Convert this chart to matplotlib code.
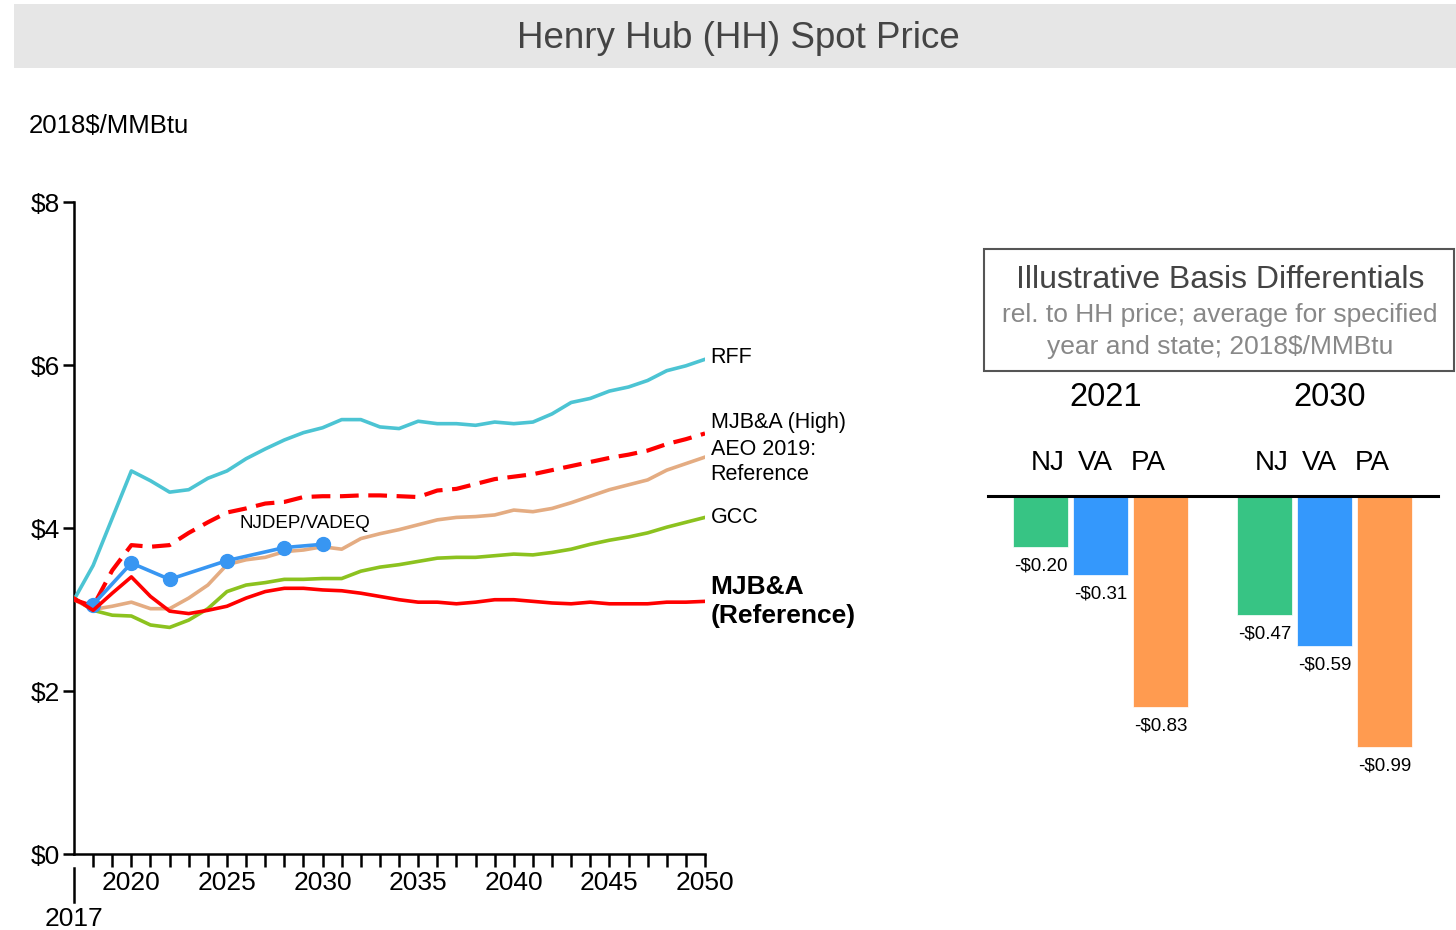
import matplotlib
matplotlib.use('Agg')
import matplotlib.pyplot as plt
from matplotlib.patches import Rectangle

plt.rcParams['font.family'] = ['Liberation Sans', 'DejaVu Sans']

years = list(range(2017, 2051))
rff = [3.12, 3.54, 4.12, 4.70, 4.58, 4.44, 4.47, 4.61, 4.70, 4.85,
       4.97, 5.08, 5.17, 5.23, 5.33, 5.33, 5.24, 5.22, 5.31, 5.28,
       5.28, 5.26, 5.30, 5.28, 5.30, 5.40, 5.54, 5.59, 5.68, 5.73,
       5.81, 5.93, 5.99, 6.07]
mjba_high = [3.12, 3.04, 3.48, 3.79, 3.77, 3.79, 3.94, 4.07, 4.19, 4.24,
             4.30, 4.32, 4.38, 4.39, 4.39, 4.40, 4.40, 4.39, 4.38, 4.46,
             4.48, 4.54, 4.60, 4.63, 4.66, 4.71, 4.76, 4.81, 4.86, 4.90,
             4.95, 5.03, 5.09, 5.16]
aeo_ref = [3.12, 3.00, 3.04, 3.09, 3.01, 3.01, 3.14, 3.30, 3.55, 3.61,
           3.64, 3.71, 3.73, 3.77, 3.74, 3.87, 3.93, 3.98, 4.04, 4.10,
           4.13, 4.14, 4.16, 4.22, 4.20, 4.24, 4.31, 4.39, 4.47, 4.53,
           4.59, 4.71, 4.79, 4.87]
gcc = [3.14, 2.99, 2.93, 2.92, 2.81, 2.78, 2.87, 3.01, 3.22, 3.30,
       3.33, 3.37, 3.37, 3.38, 3.38, 3.47, 3.52, 3.55, 3.59, 3.63,
       3.64, 3.64, 3.66, 3.68, 3.67, 3.70, 3.74, 3.80, 3.85, 3.89,
       3.94, 4.01, 4.07, 4.13]
mjba_ref = [3.14, 2.99, 3.20, 3.40, 3.16, 2.98, 2.95, 2.99, 3.04, 3.14,
            3.22, 3.26, 3.26, 3.24, 3.23, 3.20, 3.16, 3.12, 3.09, 3.09,
            3.07, 3.09, 3.12, 3.12, 3.10, 3.08, 3.07, 3.09, 3.07, 3.07,
            3.07, 3.09, 3.09, 3.10]
nj_years = [2018, 2020, 2022, 2025, 2028, 2030]
nj_vals = [3.06, 3.57, 3.37, 3.60, 3.76, 3.80]

basis_years = ['2021', '2030']
states = ['NJ', 'VA', 'PA']
basis = {'2021': [-0.20, -0.31, -0.83], '2030': [-0.47, -0.59, -0.99]}
state_colors = ['#37C484', '#3498FC', '#FF9B50']

W, H = 1456, 930
fig = plt.figure(figsize=(W / 100, H / 100), dpi=100)

def fx(x): return x / W
def fy(y): return 1 - y / H

# title banner
fig.patches.append(Rectangle((fx(14), fy(68)), fx(1456 - 14), 64 / H, transform=fig.transFigure,
                             facecolor='#E6E6E6', edgecolor='none', zorder=0))
fig.text(fx(738), fy(38), 'Henry Hub (HH) Spot Price', ha='center', va='center', fontsize=26.5, color='#444444')
fig.text(fx(29), fy(126), '2018$/MMBtu', ha='left', va='center', fontsize=18.5, color='black')

# left chart
ax = fig.add_axes([fx(74), fy(854), fx(705 - 74), (854 - 202) / H])
ax.plot(years, rff, color='#4CC4D3', lw=2.6, zorder=3)
ax.plot(years, gcc, color='#8CC21F', lw=2.6, zorder=3)
ax.plot(years, aeo_ref, color='#E4AC82', lw=2.6, zorder=3)
ax.plot(years, mjba_high, color='#FF0000', lw=3, ls=(0, (4.5, 2.3)), zorder=4)
ax.plot(nj_years, nj_vals, color='#3896F2', lw=2.6, marker='o', ms=10, zorder=5)
ax.plot(years, mjba_ref, color='#FF0000', lw=2.6, zorder=6)

ax.set_xlim(2017, 2050)
ax.set_ylim(0, 8)
for s in ('top', 'right'):
    ax.spines[s].set_visible(False)
for s in ('left', 'bottom'):
    ax.spines[s].set_linewidth(1.8)
ax.set_yticks([0, 2, 4, 6, 8])
ax.set_yticklabels(['$0', '$2', '$4', '$6', '$8'])
ax.tick_params(axis='y', length=8, width=1.8, labelsize=19, pad=2)
ax.set_xticks(list(range(2018, 2051)))
ax.set_xticklabels([str(y) if y % 5 == 0 else '' for y in range(2018, 2051)])
ax.tick_params(axis='x', length=9, width=1.8, labelsize=19, pad=3)
ax.plot([2017, 2017], [-0.0215, -0.0736], transform=ax.get_xaxis_transform(), color='black', lw=1.8, clip_on=False)
ax.text(2017, -0.099, '2017', transform=ax.get_xaxis_transform(), ha='center', va='center', fontsize=19)

lab = dict(fontsize=15.5, ha='left', va='center', color='black')
ax.text(2050.3, 6.09, 'RFF', **lab)
ax.text(2050.3, 5.29, 'MJB&A (High)', **lab)
ax.text(2050.3, 4.81, 'AEO 2019:\nReference', linespacing=1.2, **lab)
ax.text(2050.3, 4.13, 'GCC', **lab)
ax.text(2050.3, 3.10, 'MJB&A\n(Reference)', fontsize=19, fontweight='bold', ha='left', va='center', linespacing=1.25)
ax.text(2029.1, 4.05, 'NJDEP/VADEQ', fontsize=13.5, ha='center', va='center')

# right panel: basis differentials
fig.patches.append(Rectangle((fx(984), fy(371)), fx(1454 - 984), (371 - 249) / H, transform=fig.transFigure,
                             facecolor='white', edgecolor='#555555', lw=1.5))
fig.text(fx(1220), fy(280), 'Illustrative Basis Differentials', ha='center', va='center', fontsize=23, color='#444444')
fig.text(fx(1220), fy(315), 'rel. to HH price; average for specified', ha='center', va='center', fontsize=19, color='#888888')
fig.text(fx(1220), fy(347), 'year and state; 2018$/MMBtu', ha='center', va='center', fontsize=19, color='#888888')

bx = fig.add_axes([fx(988), fy(826), fx(1438 - 988), (826 - 496) / H])
bx.set_xlim(-0.875, 6.625)
bx.set_ylim(-1.3, 0)
bx.axis('off')
group_offset = [0, 3.733]
label_shift = [-0.88, -0.09, 0.8]
for g, yr in enumerate(basis_years):
    xs = [group_offset[g] + i for i in range(3)]
    bx.bar(xs, basis[yr], width=0.917, color=state_colors, edgecolor='white', lw=0.5)
    for x, v in zip(xs, basis[yr]):
        bx.text(x, v - 0.075, '-${:.2f}'.format(abs(v)), ha='center', va='center', fontsize=13.5)
    for st, sh in zip(states, label_shift):
        bx.text(group_offset[g] + 1 + sh, 0.13, st, ha='center', va='center', fontsize=20, clip_on=False)
    bx.text(group_offset[g] + 1.08, 0.39, yr, ha='center', va='center', fontsize=23.5, clip_on=False)
bx.axhline(0, color='black', lw=2.2, clip_on=False)

fig.savefig('out.png', dpi=100)
